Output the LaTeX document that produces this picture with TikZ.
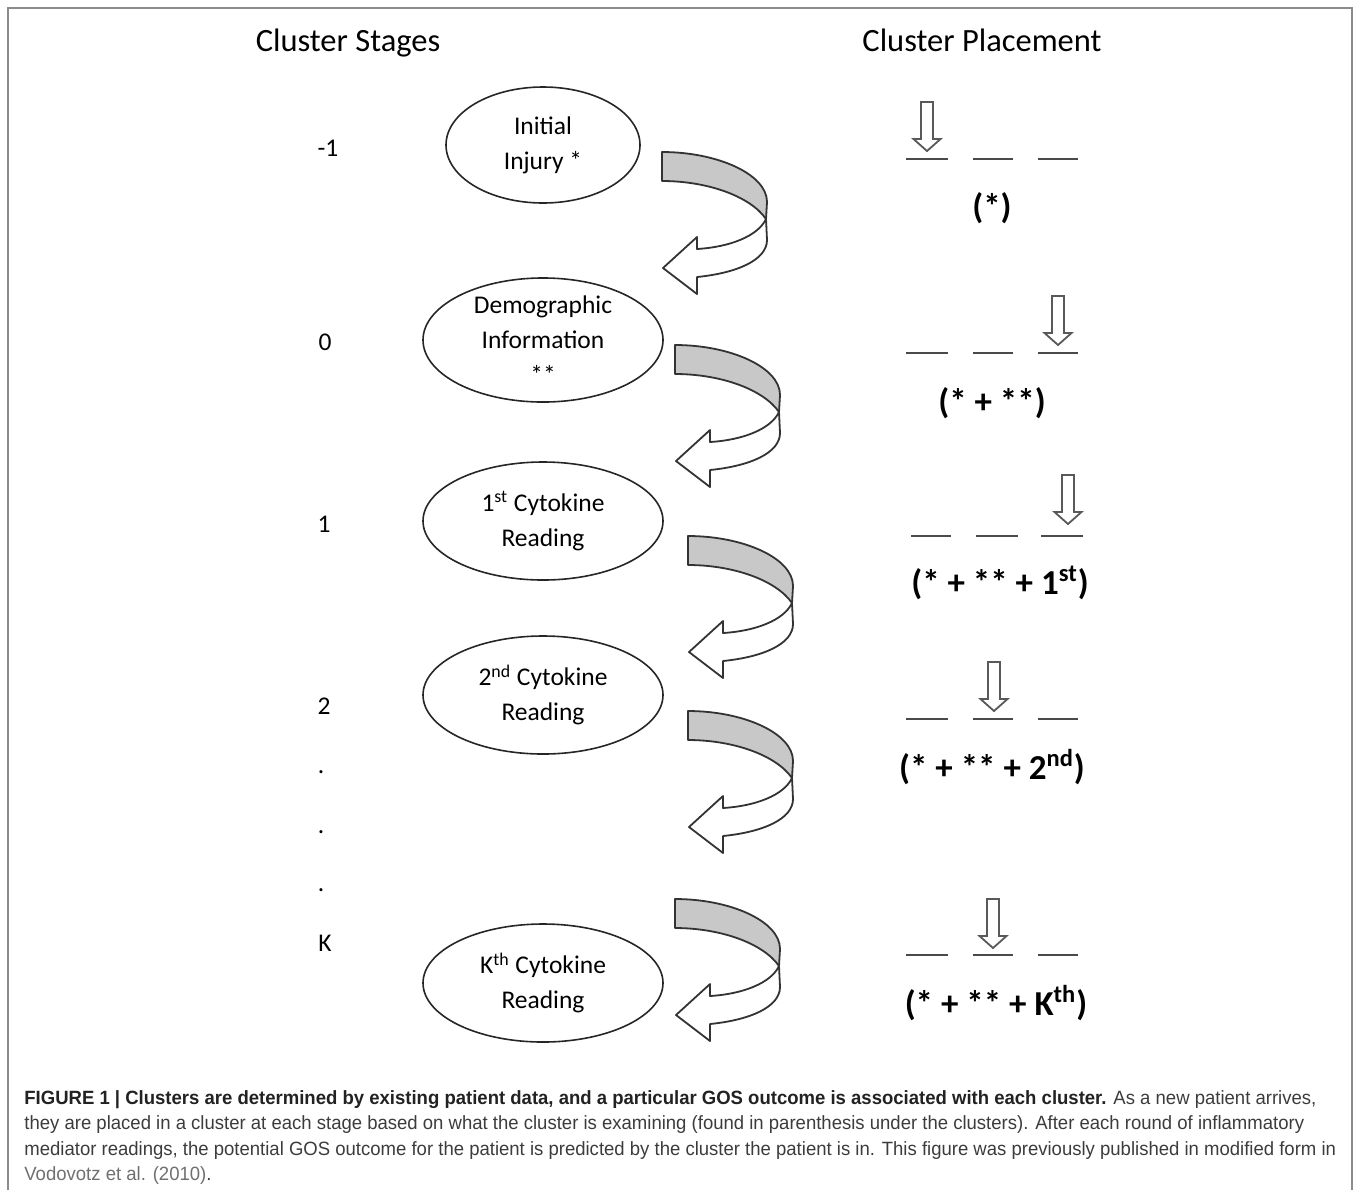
\documentclass[tikz,border=0pt]{standalone}
\usepackage{fontspec}
\setmainfont{Carlito}
\newfontfamily\capfont[FakeStretch=0.965]{Liberation Sans}
\usetikzlibrary{shapes.geometric}
\definecolor{cline}{HTML}{4A4A4A}
\definecolor{cband}{HTML}{C8C8C8}
\definecolor{ccap}{HTML}{3C3C3C}
\definecolor{chead}{HTML}{222222}
\definecolor{clink}{HTML}{707070}
\definecolor{cframe}{HTML}{8C8C8C}
\tikzset{
  bubble/.style={draw=black!85, ellipse, line width=0.8pt, align=center, inner sep=0pt, font=\fontsize{12.75}{17.5}\selectfont},
  stagenum/.style={font=\fontsize{12.75}{15}\selectfont},
  header/.style={anchor=base, font=\fontsize{16.25}{19}\selectfont},
  placelbl/.style={font=\bfseries\fontsize{17.5}{20}\selectfont},
  slot/.style={draw=cline, line width=1.3pt},
  turnarrow/.pic={
    \filldraw[fill=white, draw=black!80, line width=0.9pt, line join=round]
      (104,67) .. controls (96,84) and (68,95) .. (35,97) -- (35,85) -- (1,116) -- (35,142) -- (35,125)
      .. controls (75,121) and (105,108) .. (105,88) -- cycle;
    \filldraw[fill=cband, draw=black!80, line width=0.9pt, line join=round]
      (0,0) .. controls (55,0) and (105,22) .. (105,50) -- (104,67)
      .. controls (88,44) and (45,29) .. (0,29) -- cycle;
  },
  slotptr/.pic={
    \draw[draw=black!65, line width=0.9pt, line join=miter]
      (-6,-49) -- (6,-49) -- (6,-12) -- (13.5,-12) -- (0,0) -- (-13.5,-12) -- (-6,-12) -- cycle;
  },
}
\begin{document}
\begin{tikzpicture}[x=0.5pt, y=-0.5pt]
\useasboundingbox (0,0) rectangle (1358,1190);
\draw[cframe, line width=1pt] (8,1190) -- (8,8) -- (1352,8) -- (1352,1190);
% headers
\node[header] (hstage) at (348,51) {Cluster Stages};
\node[header] (hplace) at (982,51) {Cluster Placement};
% stage numbers
\node[stagenum] (nm1) at (328,148) {-1};
\node[stagenum] (n0) at (325,342) {0};
\node[stagenum] (n1) at (324,524) {1};
\node[stagenum] (n2) at (324,706) {2};
\node[stagenum] (d1) at (321,772) {.};
\node[stagenum] (d2) at (321,832) {.};
\node[stagenum] (d3) at (321,890) {.};
\node[stagenum] (nk) at (325,943) {K};
% stages
\node[bubble, minimum width=97pt, minimum height=58pt] (inj) at (543,145) {Initial\\Injury *};
\node[bubble, minimum width=120pt, minimum height=62pt] (demo) at (543,340) {Demographic\\Information\\**};
\node[bubble, minimum width=120pt, minimum height=59pt] (cyt1) at (543,521) {1\textsuperscript{st} Cytokine\\Reading};
\node[bubble, minimum width=120pt, minimum height=59pt] (cyt2) at (543,695) {2\textsuperscript{nd} Cytokine\\Reading};
\node[bubble, minimum width=120pt, minimum height=59pt] (cytk) at (543,983) {K\textsuperscript{th} Cytokine\\Reading};
% turning arrows
\pic at (662,152) {turnarrow};
\pic at (675,345) {turnarrow};
\pic at (688,536) {turnarrow};
\pic at (688,711) {turnarrow};
\pic at (675,899) {turnarrow};
% placement
\draw[slot] (906,159) -- (948,159) (973,159) -- (1013,159) (1038,159) -- (1078,159);
\pic at (927,151) {slotptr};
\node[placelbl] (p1) at (992,208) {(*)};
\draw[slot] (906,353) -- (948,353) (973,353) -- (1013,353) (1038,353) -- (1078,353);
\pic at (1058,345) {slotptr};
\node[placelbl] (p2) at (992,403) {(* + **)};
\draw[slot] (911,536) -- (951,536) (976,536) -- (1018,536) (1041,536) -- (1083,536);
\pic at (1068,524) {slotptr};
\node[placelbl] (p3) at (1000,583) {(* + ** + 1\textsuperscript{st})};
\draw[slot] (906,719) -- (948,719) (973,719) -- (1013,719) (1038,719) -- (1078,719);
\pic at (994,711) {slotptr};
\node[placelbl] (p4) at (992,767) {(* + ** + 2\textsuperscript{nd})};
\draw[slot] (906,955) -- (948,955) (973,955) -- (1013,955) (1038,955) -- (1078,955);
\pic at (993,948) {slotptr};
\node[placelbl] (pk) at (996,1003) {(* + ** + K\textsuperscript{th})};
% caption
\node[anchor=north west, inner sep=0pt, align=left, text=ccap, font=\capfont\fontsize{9.6}{12.7}\selectfont] (cap) at (24,1090)
  {\textcolor{chead}{\bfseries FIGURE 1 | Clusters are determined by existing patient data, and a particular GOS outcome is associated with each cluster.} As a new patient arrives,\\
   they are placed in a cluster at each stage based on what the cluster is examining (found in parenthesis under the clusters). After each round of inflammatory\\
   mediator readings, the potential GOS outcome for the patient is predicted by the cluster the patient is in. This figure was previously published in modified form in\\
   \textcolor{clink}{Vodovotz et al. (2010)}.};
\end{tikzpicture}
\end{document}
